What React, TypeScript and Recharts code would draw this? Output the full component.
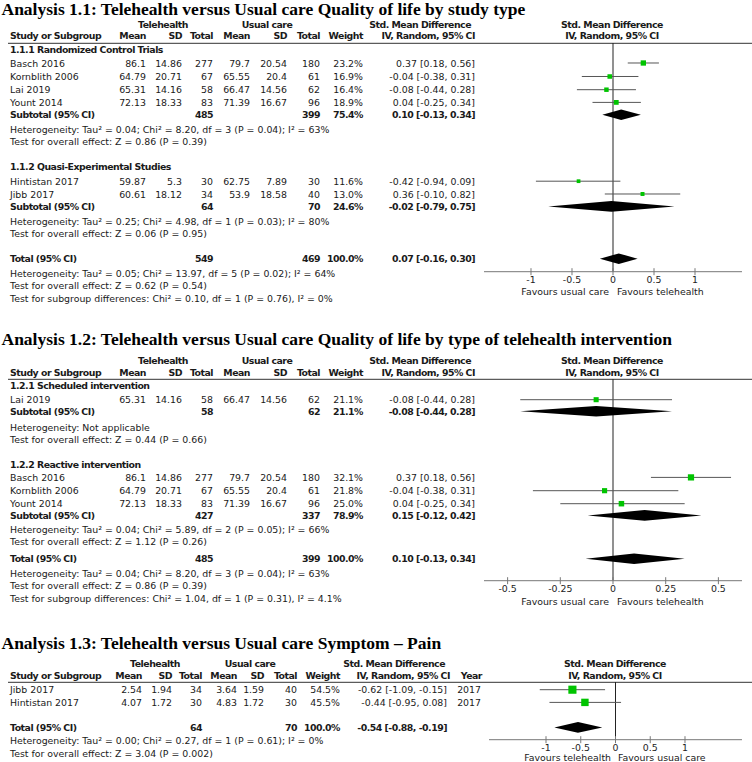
import React from 'react';
import { ComposedChart, Scatter, XAxis, YAxis, ReferenceLine, ErrorBar } from 'recharts';

// ---------------- Analysis 1.1 ----------------
const a11Groups = ['1.1.1 Randomized Control Trials', '1.1.2 Quasi-Experimental Studies'];
const a11Studies = ['Basch 2016', 'Kornblith 2006', 'Lai 2019', 'Yount 2014', 'Hintistan 2017', 'Jibb 2017'];
const a11StudyGroup = [0, 0, 0, 0, 1, 1];
const a11TeleMean = [86.1, 64.79, 65.31, 72.13, 59.87, 60.61];
const a11TeleSD = [14.86, 20.71, 14.16, 18.33, 5.3, 18.12];
const a11TeleN = [277, 67, 58, 83, 30, 34];
const a11UsualMean = [79.7, 65.55, 66.47, 71.39, 62.75, 53.9];
const a11UsualSD = [20.54, 20.4, 14.56, 16.67, 7.89, 18.58];
const a11UsualN = [180, 61, 62, 96, 30, 40];
const a11Weight = [23.2, 16.9, 16.4, 18.9, 11.6, 13.0];
const a11Smd = [0.37, -0.04, -0.08, 0.04, -0.42, 0.36];
const a11Lo = [0.18, -0.38, -0.44, -0.25, -0.94, -0.1];
const a11Hi = [0.56, 0.31, 0.28, 0.34, 0.09, 0.82];
const a11SubTeleN = [485, 64];
const a11SubUsualN = [399, 70];
const a11SubWeight = [75.4, 24.6];
const a11SubSmd = [0.1, -0.02];
const a11SubLo = [-0.13, -0.79];
const a11SubHi = [0.34, 0.75];
const a11SubHet = [
  'Heterogeneity: Tau² = 0.04; Chi² = 8.20, df = 3 (P = 0.04); I² = 63%',
  'Heterogeneity: Tau² = 0.25; Chi² = 4.98, df = 1 (P = 0.03); I² = 80%',
];
const a11SubTest = ['Test for overall effect: Z = 0.86 (P = 0.39)', 'Test for overall effect: Z = 0.06 (P = 0.95)'];
const a11Total = [549, 469, 100.0, 0.07, -0.16, 0.3]; // tele N, usual N, weight, smd, lo, hi
const a11TotalNotes = [
  'Heterogeneity: Tau² = 0.05; Chi² = 13.97, df = 5 (P = 0.02); I² = 64%',
  'Test for overall effect: Z = 0.62 (P = 0.54)',
  'Test for subgroup differences: Chi² = 0.10, df = 1 (P = 0.76), I² = 0%',
];
const a11Ticks = [-1, -0.5, 0, 0.5, 1];

// ---------------- Analysis 1.2 ----------------
const a12Groups = ['1.2.1 Scheduled intervention', '1.2.2 Reactive intervention'];
const a12Studies = ['Lai 2019', 'Basch 2016', 'Kornblith 2006', 'Yount 2014'];
const a12StudyGroup = [0, 1, 1, 1];
const a12TeleMean = [65.31, 86.1, 64.79, 72.13];
const a12TeleSD = [14.16, 14.86, 20.71, 18.33];
const a12TeleN = [58, 277, 67, 83];
const a12UsualMean = [66.47, 79.7, 65.55, 71.39];
const a12UsualSD = [14.56, 20.54, 20.4, 16.67];
const a12UsualN = [62, 180, 61, 96];
const a12Weight = [21.1, 32.1, 21.8, 25.0];
const a12Smd = [-0.08, 0.37, -0.04, 0.04];
const a12Lo = [-0.44, 0.18, -0.38, -0.25];
const a12Hi = [0.28, 0.56, 0.31, 0.34];
const a12SubTeleN = [58, 427];
const a12SubUsualN = [62, 337];
const a12SubWeight = [21.1, 78.9];
const a12SubSmd = [-0.08, 0.15];
const a12SubLo = [-0.44, -0.12];
const a12SubHi = [0.28, 0.42];
const a12SubHet = [
  'Heterogeneity: Not applicable',
  'Heterogeneity: Tau² = 0.04; Chi² = 5.89, df = 2 (P = 0.05); I² = 66%',
];
const a12SubTest = ['Test for overall effect: Z = 0.44 (P = 0.66)', 'Test for overall effect: Z = 1.12 (P = 0.26)'];
const a12Total = [485, 399, 100.0, 0.1, -0.13, 0.34];
const a12TotalNotes = [
  'Heterogeneity: Tau² = 0.04; Chi² = 8.20, df = 3 (P = 0.04); I² = 63%',
  'Test for overall effect: Z = 0.86 (P = 0.39)',
  'Test for subgroup differences: Chi² = 1.04, df = 1 (P = 0.31), I² = 4.1%',
];
const a12Ticks = [-0.5, -0.25, 0, 0.25, 0.5];

// ---------------- Analysis 1.3 ----------------
const a13Studies = ['Jibb 2017', 'Hintistan 2017'];
const a13TeleMean = [2.54, 4.07];
const a13TeleSD = [1.94, 1.72];
const a13TeleN = [34, 30];
const a13UsualMean = [3.64, 4.83];
const a13UsualSD = [1.59, 1.72];
const a13UsualN = [40, 30];
const a13Weight = [54.5, 45.5];
const a13Smd = [-0.62, -0.44];
const a13Lo = [-1.09, -0.95];
const a13Hi = [-0.15, 0.08];
const a13Year = ['2017', '2017'];
const a13Total = [64, 70, 100.0, -0.54, -0.88, -0.19];
const a13TotalNotes = [
  'Heterogeneity: Tau² = 0.00; Chi² = 0.27, df = 1 (P = 0.61); I² = 0%',
  'Test for overall effect: Z = 3.04 (P = 0.002)',
];
const a13Ticks = [-1, -0.5, 0, 0.5, 1];

// ---------------- helpers ----------------
const FONT = '"DejaVu Sans", sans-serif';
const FS = 9.4;
const TXT = '#1a1a1a';
const GREEN = '#00c400';

const f2 = (v: number) => v.toFixed(2);
const ciText = (e: number, l: number, h: number) => `${f2(e)} [${f2(l)}, ${f2(h)}]`;
const wText = (w: number) => `${w.toFixed(1)}%`;

function T(props: any) {
  const { x, y, a = 'start', b = false, c = TXT, children } = props;
  return (
    <text
      x={x}
      y={y}
      dy="0.35em"
      textAnchor={a}
      fontFamily={FONT}
      fontSize={FS}
      fontWeight={b ? 'bold' : 'normal'}
      letterSpacing={b ? -0.5 : 0}
      fill={c}
    >
      {children}
    </text>
  );
}

function Title(props: any) {
  return (
    <text x={1.5} y={props.y} fontFamily='"Liberation Serif", "Times New Roman", serif' fontWeight="bold" fontSize={17.5} fill="#000">
      {props.children}
    </text>
  );
}

const Square = (p: any) => {
  const w = (p.payload && p.payload.w) != null ? p.payload.w : p.w;
  const s = 1.1 * Math.sqrt(w);
  return <rect x={p.cx - s / 2} y={p.cy - s / 2} width={s} height={s} fill={GREEN} />;
};
const NoShape = () => <g />;

const diamondShape = (est: number, lo: number, hi: number, h: number) => (p: any) => {
  const x1 = Number(p.x1);
  const x2 = Number(p.x2);
  const y = Number(p.y1);
  const cx = x1 + ((est - lo) / (hi - lo)) * (x2 - x1);
  return <polygon points={`${x1},${y} ${cx},${y - h} ${x2},${y} ${cx},${y + h}`} fill="#000" />;
};

const CrossTick = (p: any) => {
  const { x, y, payload } = p;
  return (
    <g>
      <line x1={x} x2={x} y1={y - 3.5} y2={y + 3.5} stroke="#777" strokeWidth={1} />
      <text x={x} y={y + 7.8} dy="0.35em" textAnchor="middle" fontFamily={FONT} fontSize={FS} fill="#222">
        {String(payload.value)}
      </text>
    </g>
  );
};

function Forest(props: any) {
  const { left, top, width, axisY, domain, ticks, points, diamonds } = props;
  const axisH = 28;
  const height = axisY - top + axisH;
  return (
    <div style={{ position: 'absolute', left, top }}>
      <ComposedChart width={width} height={height} margin={{ top: 0, right: 0, bottom: 0, left: 0 }}>
        <XAxis
          type="number"
          dataKey="x"
          domain={domain}
          ticks={ticks}
          interval={0}
          allowDataOverflow
          height={axisH}
          stroke="#777"
          tickLine={false}
          tickSize={0}
          tickMargin={0}
          tick={CrossTick}
        />
        <YAxis type="number" dataKey="y" domain={[top, axisY]} reversed hide width={0} allowDataOverflow />
        <ReferenceLine x={0} stroke="#222" strokeWidth={1} />
        <Scatter data={points} shape={NoShape} isAnimationActive={false}>
          <ErrorBar dataKey="err" direction="x" width={0} stroke="#555" strokeWidth={1} isAnimationActive={false} />
        </Scatter>
        <Scatter data={points} shape={Square} isAnimationActive={false} />
        {diamonds.map((d: any, i: number) => (
          <ReferenceLine
            key={i}
            ifOverflow="visible"
            segment={[
              { x: d.lo, y: d.y },
              { x: d.hi, y: d.y },
            ]}
            shape={diamondShape(d.est, d.lo, d.hi, 5.3)}
          />
        ))}
      </ComposedChart>
    </div>
  );
}

// ---------------- layout (pixel rows) ----------------
const COLS = { tm: 146, tsd: 182, tn: 213, um: 250, usd: 287, un: 320, w: 363, ci: 475, hdrSmd: 471, tele: 163, usual: 267 };
const COLS3 = { tm: 142, tsd: 172, tn: 202, um: 237, usd: 264, un: 297, w: 340, ci: 447, hdrSmd: 445, hdrIv: 450, year: 481, tele: 155, usual: 250 };

const L11 = {
  title: 15.3, h1: 24.8, h2: 36.2, line: 43.3,
  groups: [
    { hdr: 50, rows: [63.3, 76.8, 90, 102.7], sub: 115, het: 129.3, test: 141.7 },
    { hdr: 166.7, rows: [181.5, 194.3], sub: 206.7, het: 221.7, test: 234 },
  ],
  total: 259, notes: [273.3, 286, 298.3], axis: 272, fav: 291.7,
};
const L12 = {
  title: 344.5, h1: 360.3, h2: 372.7, line: 379.3,
  groups: [
    { hdr: 385.7, rows: [400], sub: 411.5, het: 427.3, test: 440 },
    { hdr: 464.5, rows: [477.7, 491, 504], sub: 515.7, het: 529.3, test: 541.7 },
  ],
  total: 559, notes: [573.3, 585.7, 599], axis: 581, fav: 601.7,
};
const L13 = { title: 648.5, h1: 664, h2: 675.7, line: 682.3, rows: [690, 702.7], total: 727.7, notes: [741, 753.3], axis: 740, fav: 758 };

function GroupedSection(props: any) {
  const { L, groups, studies, sg, tm, tsd, tn, um, usd, un, w, smd, lo, hi, sTn, sUn, sW, sSmd, sLo, sHi, sHet, sTest, tot } = props;
  const els: any[] = [];
  const rowY: number[] = [];
  groups.forEach((gName: string, g: number) => {
    const G = L.groups[g];
    els.push(<T key={`g${g}`} x={10} y={G.hdr} b>{gName}</T>);
    let k = 0;
    studies.forEach((s: string, i: number) => {
      if (sg[i] !== g) return;
      const y = G.rows[k++];
      rowY[i] = y;
      els.push(
        <g key={`s${i}`}>
          <T x={10} y={y}>{s}</T>
          <T x={COLS.tm} y={y} a="end">{String(tm[i])}</T>
          <T x={COLS.tsd} y={y} a="end">{String(tsd[i])}</T>
          <T x={COLS.tn} y={y} a="end">{String(tn[i])}</T>
          <T x={COLS.um} y={y} a="end">{String(um[i])}</T>
          <T x={COLS.usd} y={y} a="end">{String(usd[i])}</T>
          <T x={COLS.un} y={y} a="end">{String(un[i])}</T>
          <T x={COLS.w} y={y} a="end">{wText(w[i])}</T>
          <T x={COLS.ci} y={y} a="end">{ciText(smd[i], lo[i], hi[i])}</T>
        </g>
      );
    });
    els.push(
      <g key={`sub${g}`}>
        <T x={10} y={G.sub} b>Subtotal (95% CI)</T>
        <T x={COLS.tn} y={G.sub} a="end" b>{String(sTn[g])}</T>
        <T x={COLS.un} y={G.sub} a="end" b>{String(sUn[g])}</T>
        <T x={COLS.w} y={G.sub} a="end" b>{wText(sW[g])}</T>
        <T x={COLS.ci} y={G.sub} a="end" b>{ciText(sSmd[g], sLo[g], sHi[g])}</T>
        <T x={10} y={G.het}>{sHet[g]}</T>
        <T x={10} y={G.test}>{sTest[g]}</T>
      </g>
    );
  });
  const points = studies.map((_: string, i: number) => ({ x: smd[i], y: rowY[i], err: [smd[i] - lo[i], hi[i] - smd[i]], w: w[i] }));
  const diamonds = groups.map((_: string, g: number) => ({ est: sSmd[g], lo: sLo[g], hi: sHi[g], y: L.groups[g].sub }));
  diamonds.push({ est: tot[3], lo: tot[4], hi: tot[5], y: L.total });
  return { els, points, diamonds };
}

function Header(props: any) {
  const { L, C, three } = props;
  const cx = three ? 615 : 612;
  return (
    <g>
      <T x={C.tele} y={L.h1} a="middle" b>Telehealth</T>
      <T x={C.usual} y={L.h1} a="middle" b>Usual care</T>
      <T x={C.hdrSmd} y={L.h1} a="end" b>Std. Mean Difference</T>
      <T x={cx} y={L.h1} a="middle" b>Std. Mean Difference</T>
      <T x={10} y={L.h2} b>Study or Subgroup</T>
      <T x={C.tm} y={L.h2} a="end" b>Mean</T>
      <T x={C.tsd} y={L.h2} a="end" b>SD</T>
      <T x={C.tn} y={L.h2} a="end" b>Total</T>
      <T x={C.um} y={L.h2} a="end" b>Mean</T>
      <T x={C.usd} y={L.h2} a="end" b>SD</T>
      <T x={C.un} y={L.h2} a="end" b>Total</T>
      <T x={C.w} y={L.h2} a="end" b>Weight</T>
      <T x={three ? C.hdrIv : C.ci} y={L.h2} a="end" b>IV, Random, 95% CI</T>
      {three ? <T x={C.year + 1} y={L.h2} a="end" b>Year</T> : null}
      <T x={cx} y={L.h2} a="middle" b>IV, Random, 95% CI</T>
      <line x1={8} x2={752} y1={L.line} y2={L.line} stroke="#333" strokeWidth={1} />
    </g>
  );
}

export default function App() {
  const s11 = GroupedSection({
    L: L11, groups: a11Groups, studies: a11Studies, sg: a11StudyGroup, tm: a11TeleMean, tsd: a11TeleSD, tn: a11TeleN,
    um: a11UsualMean, usd: a11UsualSD, un: a11UsualN, w: a11Weight, smd: a11Smd, lo: a11Lo, hi: a11Hi,
    sTn: a11SubTeleN, sUn: a11SubUsualN, sW: a11SubWeight, sSmd: a11SubSmd, sLo: a11SubLo, sHi: a11SubHi,
    sHet: a11SubHet, sTest: a11SubTest, tot: a11Total,
  });
  const s12 = GroupedSection({
    L: L12, groups: a12Groups, studies: a12Studies, sg: a12StudyGroup, tm: a12TeleMean, tsd: a12TeleSD, tn: a12TeleN,
    um: a12UsualMean, usd: a12UsualSD, un: a12UsualN, w: a12Weight, smd: a12Smd, lo: a12Lo, hi: a12Hi,
    sTn: a12SubTeleN, sUn: a12SubUsualN, sW: a12SubWeight, sSmd: a12SubSmd, sLo: a12SubLo, sHi: a12SubHi,
    sHet: a12SubHet, sTest: a12SubTest, tot: a12Total,
  });
  const p13 = a13Studies.map((_, i) => ({ x: a13Smd[i], y: L13.rows[i], err: [a13Smd[i] - a13Lo[i], a13Hi[i] - a13Smd[i]], w: a13Weight[i] }));
  const d13 = [{ est: a13Total[3], lo: a13Total[4], hi: a13Total[5], y: L13.total }];

  const totalBlock = (L: any, tot: number[], notes: string[]) => (
    <g>
      <T x={10} y={L.total} b>Total (95% CI)</T>
      <T x={COLS.tn} y={L.total} a="end" b>{String(tot[0])}</T>
      <T x={COLS.un} y={L.total} a="end" b>{String(tot[1])}</T>
      <T x={COLS.w} y={L.total} a="end" b>{wText(tot[2])}</T>
      <T x={COLS.ci} y={L.total} a="end" b>{ciText(tot[3], tot[4], tot[5])}</T>
      {notes.map((n, i) => (
        <T key={i} x={10} y={L.notes[i]}>{n}</T>
      ))}
    </g>
  );

  return (
    <div style={{ position: 'absolute', left: 0, top: 0, width: 752, height: 762, background: '#fff', overflow: 'hidden' }}>
      <svg width={752} height={762} style={{ position: 'absolute', left: 0, top: 0 }}>
        {/* 1.1 */}
        <Title y={L11.title}>Analysis 1.1: Telehealth versus Usual care Quality of life by study type</Title>
        <Header L={L11} C={COLS} />
        {s11.els}
        {totalBlock(L11, a11Total, a11TotalNotes)}
        <T x={609} y={L11.fav} a="end">Favours usual care</T>
        <T x={617} y={L11.fav}>Favours telehealth</T>

        {/* 1.2 */}
        <Title y={L12.title}>Analysis 1.2: Telehealth versus Usual care Quality of life by type of telehealth intervention</Title>
        <Header L={L12} C={COLS} />
        {s12.els}
        {totalBlock(L12, a12Total, a12TotalNotes)}
        <T x={609} y={L12.fav} a="end">Favours usual care</T>
        <T x={617} y={L12.fav}>Favours telehealth</T>

        {/* 1.3 */}
        <Title y={L13.title}>Analysis 1.3: Telehealth versus Usual care Symptom – Pain</Title>
        <Header L={L13} C={COLS3} three />
        {a13Studies.map((s, i) => {
          const y = L13.rows[i];
          return (
            <g key={i}>
              <T x={10} y={y}>{s}</T>
              <T x={COLS3.tm} y={y} a="end">{String(a13TeleMean[i])}</T>
              <T x={COLS3.tsd} y={y} a="end">{String(a13TeleSD[i])}</T>
              <T x={COLS3.tn} y={y} a="end">{String(a13TeleN[i])}</T>
              <T x={COLS3.um} y={y} a="end">{String(a13UsualMean[i])}</T>
              <T x={COLS3.usd} y={y} a="end">{String(a13UsualSD[i])}</T>
              <T x={COLS3.un} y={y} a="end">{String(a13UsualN[i])}</T>
              <T x={COLS3.w} y={y} a="end">{wText(a13Weight[i])}</T>
              <T x={COLS3.ci} y={y} a="end">{ciText(a13Smd[i], a13Lo[i], a13Hi[i])}</T>
              <T x={COLS3.year} y={y} a="end">{a13Year[i]}</T>
            </g>
          );
        })}
        <T x={10} y={L13.total} b>Total (95% CI)</T>
        <T x={COLS3.tn} y={L13.total} a="end" b>{String(a13Total[0])}</T>
        <T x={COLS3.un} y={L13.total} a="end" b>{String(a13Total[1])}</T>
        <T x={COLS3.w} y={L13.total} a="end" b>{wText(a13Total[2])}</T>
        <T x={COLS3.ci} y={L13.total} a="end" b>{ciText(a13Total[3], a13Total[4], a13Total[5])}</T>
        {a13TotalNotes.map((n, i) => (
          <T key={i} x={10} y={L13.notes[i]}>{n}</T>
        ))}
        <T x={611} y={L13.fav} a="end">Favours telehealth</T>
        <T x={618} y={L13.fav}>Favours usual care</T>
      </svg>

      <Forest left={484} top={L11.line} width={258} axisY={L11.axis} domain={[-1.573, 1.573]} ticks={a11Ticks} points={s11.points} diamonds={s11.diamonds} />
      <Forest left={484} top={L12.line} width={258} axisY={L12.axis} domain={[-0.612, 0.612]} ticks={a12Ticks} points={s12.points} diamonds={s12.diamonds} />
      <Forest left={489} top={L13.line} width={253} axisY={L13.axis} domain={[-1.82, 1.82]} ticks={a13Ticks} points={p13} diamonds={d13} />
    </div>
  );
}
